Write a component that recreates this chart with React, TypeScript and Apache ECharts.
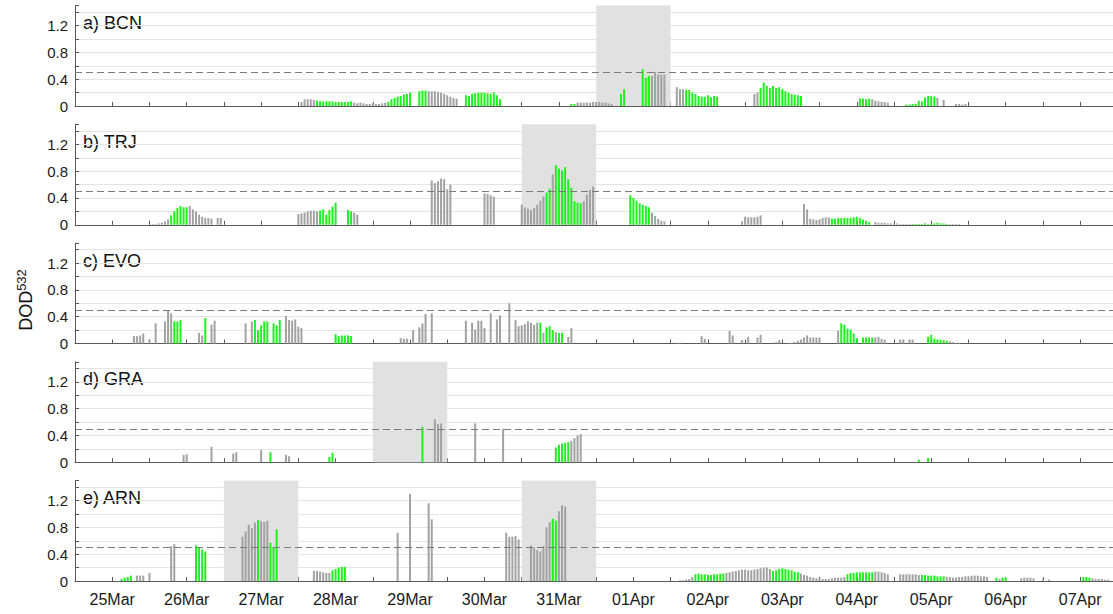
import { useEffect, useRef } from "react";
import * as echarts from "echarts";

// [first hour after 25 Mar 00:00, consecutive hourly values]
type Seg = [number, number[]];

const dayLabels = [
  "25Mar", "26Mar", "27Mar", "28Mar", "29Mar", "30Mar", "31Mar",
  "01Apr", "02Apr", "03Apr", "04Apr", "05Apr", "06Apr", "07Apr",
];
const yTickLabels = [0, 0.4, 0.8, 1.2];
const stationTitles = ["a) BCN", "b) TRJ", "c) EVO", "d) GRA", "e) ARN"];
const dustThreshold = 0.5;

// Barcelona
const bcnGray: Seg[] = [
  [61, [0.06, 0.1, 0.1, 0.1, 0.09]],
  [78, [0.05, 0.04, 0.05, 0.04, 0.03, 0.03, 0.04, 0.03, 0.03, 0.04, 0.05]],
  [102, [0.22, 0.22, 0.22, 0.21, 0.2, 0.18, 0.16, 0.14, 0.12, 0.11]],
  [150, [0.05, 0.05, 0.05, 0.05, 0.05, 0.06, 0.06, 0.06, 0.05, 0.05, 0.04, 0.03]],
  [174, [0.45, 0.51, 0.47, 0.47, 0.47]],
  [182, [0.28, 0.25, 0.25]],
  [207, [0.18, 0.2]],
  [245, [0.1, 0.08, 0.07, 0.06, 0.06, 0.05]],
  [266, [0.12]],
  [268, [0.09]],
  [272, [0.03, 0.03, 0.02, 0.03]],
];
const bcnGreen: Seg[] = [
  [66, [0.08, 0.07, 0.07, 0.07, 0.07, 0.07, 0.06, 0.06, 0.06, 0.06, 0.06, 0.07]],
  [89, [0.06, 0.1, 0.12, 0.14, 0.15, 0.17, 0.18, 0.2]],
  [99, [0.22, 0.23, 0.23]],
  [114, [0.16, 0.15, 0.18, 0.19, 0.2, 0.2, 0.2, 0.19, 0.18, 0.2, 0.16, 0.1]],
  [148, [0.03, 0.03]],
  [164, [0.18, 0.25]],
  [171, [0.55, 0.42, 0.45]],
  [185, [0.24, 0.24, 0.2, 0.18, 0.15, 0.14, 0.14, 0.16, 0.13, 0.15, 0.14]],
  [209, [0.27, 0.35, 0.3, 0.27, 0.3, 0.27, 0.28, 0.25, 0.22, 0.2, 0.18, 0.17, 0.16, 0.15]],
  [241, [0.11, 0.11, 0.1, 0.11]],
  [256, [0.02, 0.02, 0.03, 0.03, 0.08, 0.07, 0.13, 0.15, 0.15, 0.14]],
];

// Torrejón
const trjGray: Seg[] = [
  [13, [0.01, 0.01, 0.02, 0.03, 0.05, 0.08]],
  [25, [0.28, 0.23, 0.2, 0.15, 0.12, 0.1, 0.1, 0.09]],
  [34, [0.1, 0.1]],
  [60, [0.16, 0.17, 0.18, 0.2, 0.21, 0.21, 0.2]],
  [78, [0.18, 0.15]],
  [103, [0.66, 0.62, 0.65, 0.69, 0.68, 0.53, 0.6]],
  [120, [0.47, 0.46, 0.44, 0.42]],
  [132, [0.3, 0.26, 0.24, 0.22, 0.25, 0.3, 0.36, 0.42]],
  [142, [0.75]],
  [152, [0.35, 0.45, 0.52, 0.57]],
  [174, [0.18, 0.13, 0.09, 0.06, 0.05]],
  [203, [0.05, 0.12, 0.11, 0.11, 0.11, 0.12, 0.14]],
  [223, [0.31, 0.23, 0.09, 0.08, 0.07, 0.08, 0.1, 0.11, 0.11]],
  [246, [0.04, 0.03, 0.03, 0.03, 0.02, 0.02, 0.02, 0.02, 0.01, 0.01, 0.01, 0.01]],
  [270, [0.01, 0.01, 0.01, 0.01]],
];
const trjGreen: Seg[] = [
  [19, [0.14, 0.2, 0.25, 0.28, 0.26, 0.26]],
  [67, [0.21, 0.23, 0.15, 0.22, 0.27, 0.33]],
  [76, [0.22, 0.2]],
  [140, [0.48, 0.54]],
  [143, [0.89, 0.84, 0.81, 0.86, 0.68, 0.55, 0.35, 0.33, 0.32]],
  [167, [0.44, 0.4, 0.36, 0.32, 0.3, 0.28, 0.26]],
  [232, [0.09, 0.09, 0.1, 0.1, 0.1, 0.1, 0.1, 0.11, 0.12, 0.1, 0.08, 0.06, 0.04]],
  [258, [0.01, 0.01, 0.01, 0.01, 0.02, 0.01, 0.01, 0.02, 0.03, 0.02, 0.02, 0.01]],
];

// Évora
const evoGray: Seg[] = [
  [7, [0.11, 0.11, 0.12, 0.15]],
  [12, [0.06]],
  [14, [0.3]],
  [17, [0.33, 0.49, 0.45]],
  [28, [0.16, 0.12]],
  [32, [0.28, 0.34]],
  [43, [0.3]],
  [45, [0.33]],
  [56, [0.41, 0.35, 0.34, 0.36, 0.25, 0.23]],
  [93, [0.08, 0.07, 0.07]],
  [97, [0.2]],
  [99, [0.24, 0.3, 0.44]],
  [103, [0.45]],
  [114, [0.34]],
  [116, [0.31, 0.21, 0.34, 0.34, 0.23]],
  [122, [0.45]],
  [124, [0.36, 0.42]],
  [128, [0.6]],
  [130, [0.35, 0.26, 0.27, 0.29, 0.33, 0.31, 0.28, 0.31]],
  [139, [0.16]],
  [143, [0.17]],
  [147, [0.1, 0.23]],
  [182, [0.01, 0.01]],
  [190, [0.11, 0.07]],
  [199, [0.19, 0.12]],
  [203, [0.05]],
  [205, [0.1]],
  [208, [0.09, 0.13]],
  [214, [0.02, 0.05]],
  [218, [0.01, 0.01, 0.02, 0.04, 0.06, 0.09, 0.12, 0.09, 0.09, 0.09, 0.09]],
  [234, [0.19]],
  [246, [0.09, 0.1, 0.07, 0.06]],
  [254, [0.06, 0.06]],
  [257, [0.06, 0.06]],
  [270, [0.03, 0.02, 0.01, 0.01]],
];
const evoGreen: Seg[] = [
  [20, [0.33, 0.33, 0.35]],
  [30, [0.38]],
  [46, [0.35, 0.2, 0.27, 0.33, 0.33]],
  [52, [0.3, 0.27, 0.35]],
  [72, [0.14, 0.11, 0.12, 0.12, 0.12, 0.11]],
  [138, [0.31]],
  [140, [0.24, 0.26, 0.2]],
  [144, [0.16, 0.16]],
  [235, [0.3, 0.28, 0.22, 0.21, 0.15, 0.08]],
  [242, [0.09, 0.09, 0.09, 0.09]],
  [263, [0.1, 0.13, 0.07, 0.06, 0.06, 0.05, 0.04]],
];

// Granada
const graGray: Seg[] = [
  [23, [0.11, 0.12]],
  [32, [0.23]],
  [39, [0.13, 0.15]],
  [48, [0.18]],
  [56, [0.11, 0.09]],
  [104, [0.64, 0.57, 0.58]],
  [117, [0.58]],
  [126, [0.5]],
  [148, [0.32, 0.36, 0.4, 0.42]],
];
const graGreen: Seg[] = [
  [51, [0.15]],
  [70, [0.08, 0.14]],
  [100, [0.53]],
  [143, [0.22, 0.26, 0.28, 0.29, 0.3]],
  [260, [0.04]],
  [263, [0.06]],
];

// El Arenosillo
const arnGray: Seg[] = [
  [8, [0.08, 0.08, 0.08]],
  [12, [0.12]],
  [19, [0.52, 0.55]],
  [42, [0.66, 0.74, 0.84, 0.79, 0.87]],
  [48, [0.89, 0.88]],
  [50, [0.9]],
  [65, [0.15, 0.15, 0.14, 0.13, 0.12, 0.12]],
  [92, [0.72]],
  [96, [1.3]],
  [102, [1.16, 0.92]],
  [127, [0.72, 0.66, 0.66, 0.67, 0.62]],
  [135, [0.53, 0.5, 0.46, 0.44, 0.52, 0.8, 0.88]],
  [144, [1.04, 1.13, 1.11]],
  [183, [0.01, 0.01, 0.02, 0.03, 0.06]],
  [198, [0.12, 0.13, 0.14, 0.15, 0.16, 0.17, 0.17, 0.16, 0.16, 0.17, 0.18, 0.19, 0.2, 0.2, 0.18]],
  [222, [0.11, 0.09, 0.08, 0.06, 0.05, 0.04, 0.04, 0.03, 0.03, 0.03, 0.04, 0.05, 0.05, 0.05, 0.06]],
  [246, [0.14, 0.14, 0.13, 0.12, 0.1]],
  [254, [0.1, 0.1, 0.1, 0.1, 0.1, 0.1, 0.09]],
  [269, [0.06, 0.06, 0.05, 0.05, 0.06, 0.06, 0.07, 0.07, 0.08, 0.08, 0.08, 0.07, 0.07, 0.06]],
  [286, [0.03]],
  [293, [0.04, 0.05, 0.05, 0.05, 0.04]],
  [300, [0.02]],
  [302, [0.02]],
  [316, [0.04, 0.03, 0.03, 0.03, 0.02, 0.02]],
];
const arnGreen: Seg[] = [
  [3, [0.03, 0.05, 0.06, 0.08]],
  [27, [0.53, 0.5, 0.47, 0.44]],
  [47, [0.91]],
  [51, [0.57, 0.51, 0.77]],
  [71, [0.16, 0.18, 0.2, 0.21, 0.21]],
  [142, [0.93, 0.9]],
  [188, [0.1, 0.11, 0.1, 0.1, 0.09, 0.09, 0.1, 0.1, 0.11, 0.11]],
  [213, [0.15, 0.16, 0.18, 0.19, 0.18, 0.17, 0.16, 0.14, 0.13]],
  [237, [0.1, 0.12, 0.12, 0.13, 0.13, 0.13, 0.13, 0.13, 0.13]],
  [261, [0.09, 0.09, 0.08, 0.08, 0.08, 0.07, 0.07, 0.07]],
  [285, [0.05]],
  [287, [0.05, 0.05]],
  [313, [0.06, 0.06, 0.05]],
];

// Dust-event windows per station, in hours after 25 Mar 00:00
const bcnWindows: [number, number][] = [[156, 180]];
const trjWindows: [number, number][] = [[132, 156]];
const evoWindows: [number, number][] = [];
const graWindows: [number, number][] = [[84, 108]];
const arnWindows: [number, number][] = [[36, 60], [132, 156]];

const panels = [
  { gray: bcnGray, green: bcnGreen, windows: bcnWindows },
  { gray: trjGray, green: trjGreen, windows: trjWindows },
  { gray: evoGray, green: evoGreen, windows: evoWindows },
  { gray: graGray, green: graGreen, windows: graWindows },
  { gray: arnGray, green: arnGreen, windows: arnWindows },
];

const FONT = '"Liberation Sans", Arial, Helvetica, sans-serif';
const GRAY = "#a2a2a2";
const GREEN = "#1df21d";
const AXIS = "#595959";
const TEXT = "#1a1a1a";

const X_MIN = -12;
const X_MAX = 322.6;
const PANEL_TOP = 5.5;
const PANEL_STEP = 118.75;
const PANEL_H = 100.5;

function barData(gray: Seg[], green: Seg[]) {
  const out: { value: [number, number]; itemStyle: { color: string } }[] = [];
  const add = (segs: Seg[], color: string) =>
    segs.forEach(([t0, vals]) =>
      vals.forEach((v, i) => out.push({ value: [t0 + i, v], itemStyle: { color } }))
    );
  add(gray, GRAY);
  add(green, GREEN);
  return out;
}

function buildOption() {
  const grid: any[] = [];
  const xAxis: any[] = [];
  const yAxis: any[] = [];
  const series: any[] = [];
  const graphic: any[] = [];

  panels.forEach((p, i) => {
    const top = PANEL_TOP + i * PANEL_STEP;
    grid.push({ left: 75, right: 0, top, height: PANEL_H, containLabel: false });
    xAxis.push({
      type: "value",
      gridIndex: i,
      min: X_MIN,
      max: X_MAX,
      interval: 12,
      axisLine: { show: true, onZero: false, lineStyle: { color: AXIS, width: 1 } },
      axisTick: { show: true, inside: true, length: 4, lineStyle: { color: AXIS } },
      axisLabel: {
        show: i === panels.length - 1,
        fontSize: 16,
        fontFamily: FONT,
        color: TEXT,
        margin: 10,
        showMinLabel: false,
        showMaxLabel: false,
        formatter: (v: number) => {
          const d = Math.round(v / 24);
          return Math.abs(v - d * 24) < 1e-6 && d >= 0 && d < dayLabels.length ? dayLabels[d] : "";
        },
      },
      splitLine: { show: false },
    });
    yAxis.push({
      type: "value",
      gridIndex: i,
      min: 0,
      max: 1.5,
      interval: 0.2,
      axisLine: { show: true, onZero: false, lineStyle: { color: AXIS, width: 1 } },
      axisTick: { show: true, inside: true, length: 4, lineStyle: { color: AXIS } },
      axisLabel: {
        fontSize: 15,
        fontFamily: FONT,
        color: TEXT,
        margin: 7,
        formatter: (v: number) => {
          const hit = yTickLabels.find((t) => Math.abs(t - v) < 1e-6);
          return hit === undefined ? "" : String(hit);
        },
      },
      splitLine: {
        show: true,
        showMinLine: false,
        showMaxLine: false,
        lineStyle: { color: "#e4e4e4", width: 1 },
      },
    });
    // shaded dust-event window
    series.push({
      type: "line",
      xAxisIndex: i,
      yAxisIndex: i,
      data: [],
      silent: true,
      z: 1,
      markArea: {
        silent: true,
        itemStyle: { color: "#e1e1e1" },
        data: p.windows.map(([a, b]) => [{ xAxis: a }, { xAxis: b }]),
      },
    });
    series.push({
      type: "bar",
      xAxisIndex: i,
      yAxisIndex: i,
      data: barData(p.gray, p.green),
      barWidth: 2,
      silent: true,
      z: 2,
      markLine: {
        silent: true,
        symbol: ["none", "none"],
        label: { show: false },
        lineStyle: { type: [7, 4], color: "#7a7a7a", width: 1 },
        data: [{ yAxis: dustThreshold }],
      },
    });
    graphic.push({
      type: "text",
      left: 83,
      top: top + 8.5,
      silent: true,
      style: { text: stationTitles[i], fontSize: 18, fontFamily: FONT, fill: "#111" },
    });
  });

  graphic.push({
    type: "text",
    x: 26,
    y: 300,
    rotation: Math.PI / 2,
    silent: true,
    style: {
      text: "{d|DOD}{s|532}",
      align: "center",
      verticalAlign: "middle",
      rich: {
        d: { fontSize: 18, fontFamily: FONT, fill: "#111", lineHeight: 22 },
        s: { fontSize: 13, fontFamily: FONT, fill: "#111", verticalAlign: "top", lineHeight: 22 },
      },
    },
  });

  return { animation: false, backgroundColor: "#ffffff", grid, xAxis, yAxis, series, graphic };
}

export default function App() {
  const ref = useRef<HTMLDivElement>(null);
  useEffect(() => {
    document.body.style.margin = "0";
    if (!ref.current) return;
    const chart = echarts.init(ref.current, undefined, { renderer: "svg" });
    chart.setOption(buildOption() as any);
    return () => chart.dispose();
  }, []);
  return (
    <div
      ref={ref}
      style={{ position: "absolute", left: 0, top: 0, width: 1113, height: 614, background: "#fff" }}
    />
  );
}
